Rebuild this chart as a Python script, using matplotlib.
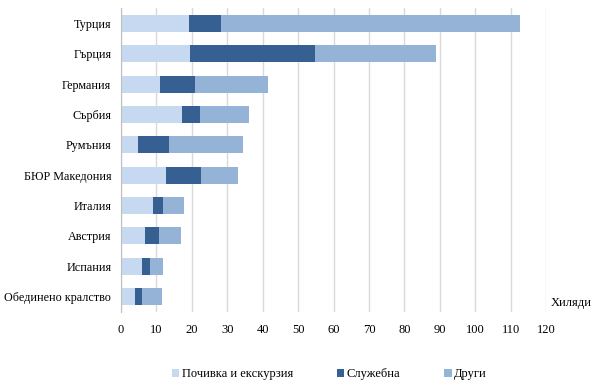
import matplotlib.pyplot as plt
import numpy as np

plt.rcParams['font.family'] = ['Liberation Serif', 'DejaVu Serif']

countries = ['Турция', 'Гърция', 'Германия', 'Сърбия', 'Румъния', 'БЮР Македония',
             'Италия', 'Австрия', 'Испания', 'Обединено кралство']
leisure = [19.2, 19.5, 11.0, 17.1, 4.7, 12.7, 9.0, 6.8, 5.9, 3.9]
business = [8.9, 35.2, 9.9, 5.1, 8.9, 9.8, 2.9, 4.0, 2.4, 2.0]
other = [84.5, 34.3, 20.5, 14.0, 20.8, 10.4, 5.9, 6.0, 3.6, 5.7]
labels = ['Почивка и екскурзия', 'Служебна', 'Други']
colors = ['#c6d9f1', '#376092', '#95b3d7']

fig = plt.figure(figsize=(6.09, 3.86), dpi=100)
ax = fig.add_axes([0.1987, 0.192, 0.698, 0.787])

# stacked horizontal bars
y = np.arange(len(countries))
left = np.zeros(len(countries))
for vals, lab, col in zip([leisure, business, other], labels, colors):
    ax.barh(y, vals, left=left, height=0.56, color=col, label=lab, zorder=2)
    left += np.array(vals)

ax.set_yticks(y)
ax.set_yticklabels(countries, fontsize=8.7)
ax.set_ylim(len(countries) - 0.5, -0.5)
ax.set_xlim(0, 120)
ax.set_xticks(range(0, 121, 10))
ax.tick_params(axis='x', labelsize=9, length=0, pad=9)
ax.tick_params(axis='y', length=0, pad=7)
ax.grid(axis='x', color='#d9d9d9', linewidth=1, zorder=0)
for s in ['top', 'right', 'bottom']:
    ax.spines[s].set_visible(False)
ax.spines['left'].set_color('#bfbfbf')

fig.text(0.905, 0.215, 'Хиляди', fontsize=9, ha='left', va='center')

ax.legend(loc='center', bbox_to_anchor=(0.49, -0.205), ncol=3, frameon=False,
          fontsize=9, handlelength=0.6, handleheight=0.6, handletextpad=0.2,
          columnspacing=3.5)

fig.savefig('out.png', dpi=100)
